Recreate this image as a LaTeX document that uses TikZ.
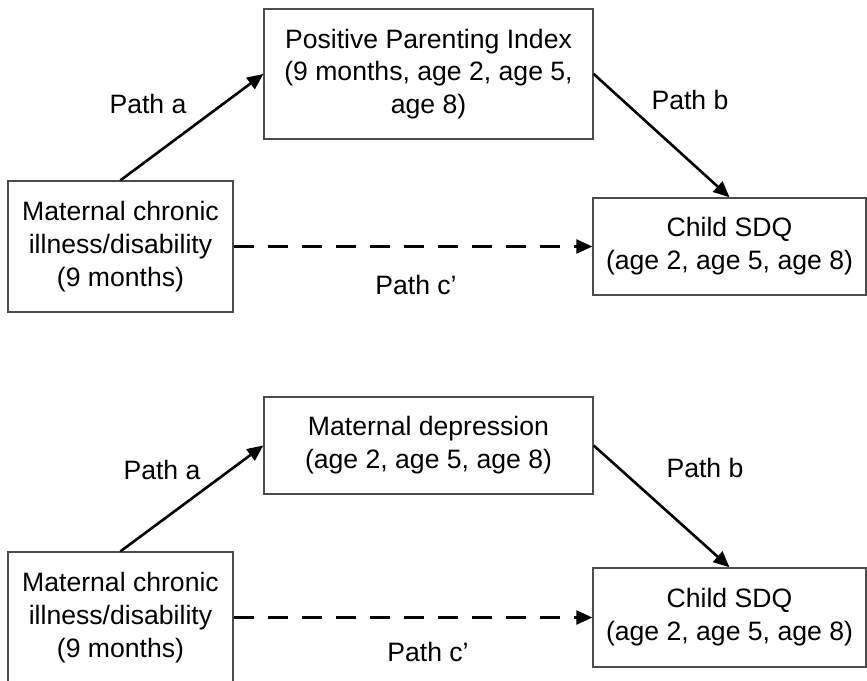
\documentclass[tikz,border=0pt]{standalone}
\usepackage{fontspec}
\setmainfont{Liberation Sans}
\usetikzlibrary{arrows.meta,positioning}

\begin{document}
\begin{tikzpicture}[
  x=0.5pt, y=-0.5pt,
  every node/.style={font=\fontsize{13.3}{16.4}\selectfont},
  box/.style={rectangle, draw=black!70, line width=0.7pt,
    align=center, inner sep=0pt, minimum width=112.5pt},
  arr/.style={-{Triangle[length=8pt,width=7pt]}, line width=1.3pt},
  dsh/.style={arr, dash pattern=on 10pt off 7pt},
  lbl/.style={inner sep=0pt}
]
  \clip (0,0) rectangle (867,680);

  % upper model: parenting
  \node[box, minimum width=164.5pt, minimum height=65pt] (ppi) at (428.5,74)
    {Positive Parenting Index\\(9 months, age 2, age 5,\\age 8)};
  \node[box, minimum height=65.5pt] (ill) at (120.5,246.5)
    {Maternal chronic\\illness/disability\\(9 months)};
  \node[box, minimum width=136.5pt, minimum height=48.5pt] (sdq) at (729.5,246.5)
    {Child SDQ\\(age 2, age 5, age 8)};

  \draw[arr] (ill.north) -- (ppi.west);
  \draw[arr] (ppi.east) -- (sdq.north);
  \draw[dsh] (ill.east) -- (sdq.west);

  \node[lbl] (pa) at (148,104) {Path a};
  \node[lbl] (pb) at (690,100) {Path b};
  \node[lbl] (pc) at (416,285) {Path c’};

  % lower model: depression
  \node[box, minimum width=164.5pt, minimum height=48.5pt] (dep) at (428.5,445.5)
    {Maternal depression\\(age 2, age 5, age 8)};
  \node[box, minimum height=65.5pt] (ill2) at (120.5,617.5)
    {Maternal chronic\\illness/disability\\(9 months)};
  \node[box, minimum width=136.5pt, minimum height=49.5pt] (sdq2) at (729.5,617.5)
    {Child SDQ\\(age 2, age 5, age 8)};

  \draw[arr] (ill2.north) -- (dep.west);
  \draw[arr] (dep.east) -- (sdq2.north);
  \draw[dsh] (ill2.east) -- (sdq2.west);

  \node[lbl] (pa2) at (162,470) {Path a};
  \node[lbl] (pb2) at (705,468) {Path b};
  \node[lbl] (pc2) at (428,652) {Path c’};
\end{tikzpicture}
\end{document}
